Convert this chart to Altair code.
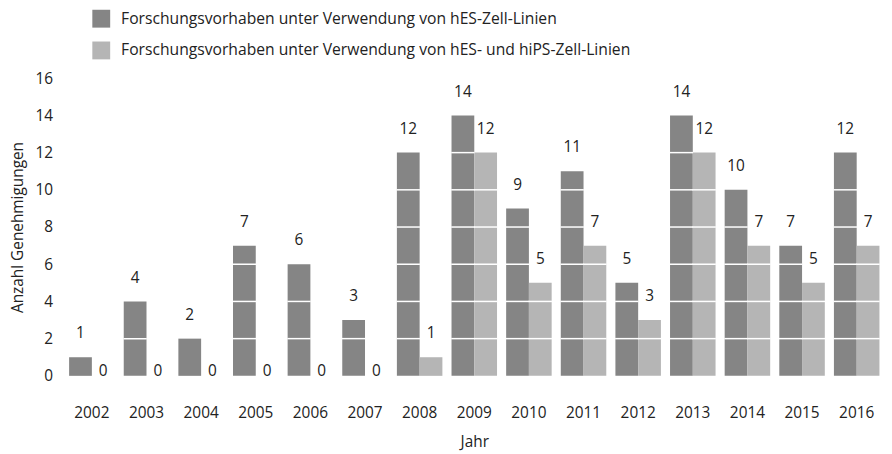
import altair as alt
import pandas as pd

years = ["2002", "2003", "2004", "2005", "2006", "2007", "2008", "2009",
         "2010", "2011", "2012", "2013", "2014", "2015", "2016"]
hes = [1, 4, 2, 7, 6, 3, 12, 14, 9, 11, 5, 14, 10, 7, 12]
hips = [0, 0, 0, 0, 0, 0, 1, 12, 5, 7, 3, 12, 7, 5, 7]
series = ["Forschungsvorhaben unter Verwendung von hES-Zell-Linien",
          "Forschungsvorhaben unter Verwendung von hES- und hiPS-Zell-Linien"]
colors = ["#858585", "#b5b5b5"]
yticks = [0, 2, 4, 6, 8, 10, 12, 14, 16]

rows = []
grid_rows = []
for y, a, b in zip(years, hes, hips):
    for s, v in ((series[0], a), (series[1], b)):
        rows.append({"Jahr": y, "Serie": s, "Wert": v})
        for g in yticks:
            if 0 < g < v:
                grid_rows.append({"Jahr": y, "Serie": s, "Wert": g})
df = pd.DataFrame(rows)
gdf = pd.DataFrame(grid_rows)

FONT = "Open Sans"
TXT = "#222222"
FS = 15.5

x_enc = alt.X("Jahr:N", title="Jahr",
              scale=alt.Scale(paddingInner=0.167, paddingOuter=0.0835),
              axis=alt.Axis(labelAngle=0, domain=False, ticks=False,
                            labelPadding=30, titlePadding=14,
                            labelFontSize=FS, titleFontSize=FS,
                            titleFontWeight="normal",
                            labelColor=TXT, titleColor=TXT,
                            labelFont=FONT, titleFont=FONT))
xo_enc = alt.XOffset("Serie:N", sort=series,
                     scale=alt.Scale(domain=series, paddingInner=0, paddingOuter=0))
y_enc = alt.Y("Wert:Q", title="Anzahl Genehmigungen",
              scale=alt.Scale(domain=[0, 16], nice=False),
              axis=alt.Axis(values=yticks, domain=False, ticks=False,
                            grid=False, labelOverlap=False,
                            labelPadding=12, titlePadding=10,
                            labelFontSize=FS, titleFontSize=FS,
                            titleFontWeight="normal",
                            labelColor=TXT, titleColor=TXT,
                            labelFont=FONT, titleFont=FONT))

bars = alt.Chart(df).mark_bar().encode(
    x=x_enc,
    xOffset=xo_enc,
    y=y_enc,
    color=alt.Color("Serie:N", sort=series,
                    scale=alt.Scale(domain=series, range=colors),
                    legend=alt.Legend(title=None, orient="none",
                                      legendX=28, legendY=-69,
                                      symbolType="square", symbolSize=324,
                                      symbolStrokeWidth=0, symbolOpacity=1,
                                      labelFontSize=15.8, labelFont=FONT,
                                      labelColor=TXT, labelOffset=11,
                                      rowPadding=14, labelLimit=800)),
)

gridlines = alt.Chart(gdf).mark_tick(
    orient="horizontal", thickness=1.5, size=23.5, color="#ffffff", opacity=1
).encode(x=x_enc, xOffset=xo_enc, y=y_enc)

labels_nz = alt.Chart(df).transform_filter("datum.Wert > 0").mark_text(
    baseline="alphabetic", dy=-19, fontSize=FS, font=FONT, color=TXT
).encode(x=x_enc, xOffset=xo_enc, y=y_enc, text="Wert:Q")

labels_z = alt.Chart(df).transform_filter("datum.Wert == 0").mark_text(
    baseline="alphabetic", dy=0, fontSize=FS, font=FONT, color=TXT
).encode(x=x_enc, xOffset=xo_enc, y=y_enc, text="Wert:Q")

chart = alt.layer(bars, gridlines, labels_nz, labels_z).properties(
    width=826, height=300,
    autosize=alt.AutoSizeParams(type="none"),
    padding={"left": 57, "top": 69, "right": 0, "bottom": 76},
).configure_view(stroke=None)

chart.save("out.html", embed_options={"renderer": "svg", "actions": False})
